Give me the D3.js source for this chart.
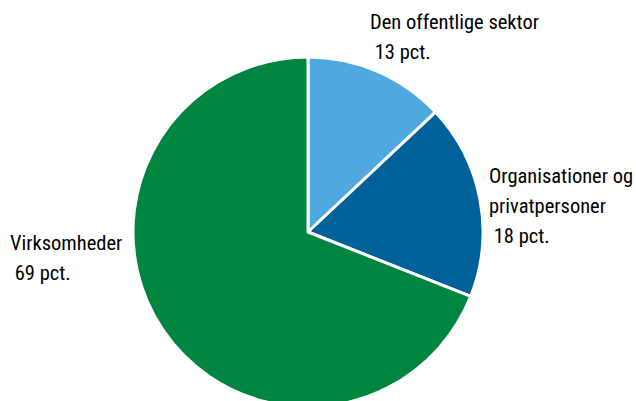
<!DOCTYPE html>
<html><head><meta charset="utf-8">
<script src="https://cdn.jsdelivr.net/npm/d3@7"></script>
<style>body{margin:0;background:#fff}svg{display:block}text{font-family:"Liberation Sans Narrow","Roboto Condensed","Noto Sans",sans-serif;font-size:20.5px;fill:#000}</style>
</head><body>
<svg id="c" width="636" height="401"></svg>
<script>
const categories = ["Den offentlige sektor", "Organisationer og privatpersoner", "Virksomheder"];
const values = [13, 18, 69];
const colors = ["#4FA8DE", "#00609A", "#008540"];
const labelLines = [["Den offentlige sektor", " 13 pct."], ["Organisationer og", "privatpersoner", " 18 pct."], ["Virksomheder", " 69 pct."]];
const labelPos = [[370, 29], [489, 183], [10, 250]];

const svg = d3.select("#c");
const cx = 308, cy = 232, r = 175;
const pie = d3.pie().sort(null).value(d => d)(values);
const arc = d3.arc().innerRadius(0).outerRadius(r);
const g = svg.append("g").attr("transform", `translate(${cx},${cy})`);
g.selectAll("path").data(pie).join("path")
  .attr("d", arc).attr("fill", (d, i) => colors[i])
  .attr("stroke", "#fff").attr("stroke-width", 3).attr("stroke-linejoin", "round");

labelLines.forEach((lines, i) => {
  const t = svg.append("text").attr("x", labelPos[i][0]).attr("y", labelPos[i][1]).attr("xml:space", "preserve");
  lines.forEach((l, j) => t.append("tspan").attr("x", labelPos[i][0]).attr("dy", j === 0 ? 0 : 30).text(l));
});
</script>
</body></html>
